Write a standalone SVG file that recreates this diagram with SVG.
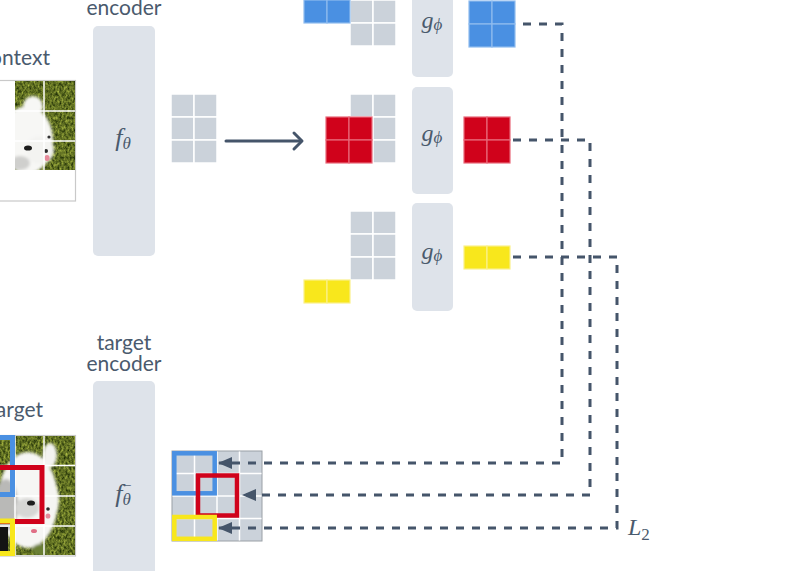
<svg xmlns="http://www.w3.org/2000/svg" width="790" height="571" viewBox="0 0 790 571">
<style>
.lbl{font-family:Lato,"Open Sans","Liberation Sans",sans-serif;font-size:21px;fill:#4a5a6d}
.math{font-family:"Liberation Serif","DejaVu Serif",serif;font-style:italic;fill:#4a5a6d}
.box{fill:#dee3ea}
.cell{fill:#cbd2da;stroke:#ffffff;stroke-width:1.5}
.blue{fill:#4a90e2;stroke:#8fbcef;stroke-width:1.2}
.red{fill:#d0021b;stroke:#e8697a;stroke-width:1.2}
.yel{fill:#f8e71c;stroke:#fbf08a;stroke-width:1.2}
.dash{fill:none;stroke:#45556a;stroke-width:3;stroke-dasharray:8 8}
.gl{stroke:#ffffff;stroke-width:1.5}
</style>
<defs>
<filter id="grassf" x="0" y="0" width="100%" height="100%" color-interpolation-filters="sRGB">
<feTurbulence type="fractalNoise" baseFrequency="0.5 0.3" numOctaves="3" seed="7"/>
<feColorMatrix type="matrix" values="0.8 0 0 0 -0.02  0.8 0 0 0 0.04  0.35 0 0 0 -0.04  0 0 0 0 1"/>
</filter>
<filter id="soft" x="-20%" y="-20%" width="140%" height="140%"><feGaussianBlur stdDeviation="1.6"/></filter>
<clipPath id="cctx"><rect x="15" y="81" width="60" height="89"/></clipPath>
<clipPath id="ctgt"><rect x="-20" y="436" width="95" height="119"/></clipPath>
<marker id="tri" viewBox="0 0 14 12" refX="13" refY="6" markerWidth="14" markerHeight="12" markerUnits="userSpaceOnUse" orient="auto">
<path d="M0,0 L14,6 L0,12 z" fill="#45556a"/>
</marker>
</defs>
<rect width="790" height="571" fill="#ffffff"/>

<g id="context">
<text class="lbl" x="50" y="65" text-anchor="end">context</text>
<rect x="-20" y="80.5" width="95.5" height="120.5" fill="#ffffff" stroke="#c9c9c9" stroke-width="1.2"/>
<g clip-path="url(#cctx)">
<rect x="15" y="81" width="60" height="89" fill="#6f8a3a" filter="url(#grassf)"/>
<g filter="url(#soft)">
<ellipse cx="27" cy="140" rx="26" ry="34" fill="#f7f7f5"/>
<ellipse cx="33" cy="106" rx="10" ry="10" fill="#f7f7f5"/>
<ellipse cx="40" cy="150" rx="14" ry="14" fill="#f3f3f1"/>
<ellipse cx="20" cy="163" rx="10" ry="7" fill="#cfcfcd"/>
</g>
<ellipse cx="28" cy="148" rx="4" ry="2.6" fill="#1e1e1e"/>
<ellipse cx="49" cy="137" rx="1.6" ry="1.6" fill="#333333"/>
<ellipse cx="46" cy="151" rx="2" ry="2" fill="#2a2a2a"/>
<ellipse cx="47" cy="158" rx="2.6" ry="3" fill="#e58a9a"/>
</g>
<line class="gl" x1="44" y1="81" x2="44" y2="170"/>
<line class="gl" x1="15" y1="111" x2="75" y2="111"/>
<line class="gl" x1="15" y1="141" x2="75" y2="141"/>
</g>

<g id="context-encoder">
<text class="lbl" x="124" y="15" text-anchor="middle">encoder</text>
<rect class="box" x="93" y="26" width="62" height="230" rx="5"/>
<text class="math" x="123" y="146" text-anchor="middle" font-size="26">f<tspan font-size="17" dy="3">θ</tspan></text>
</g>

<g id="context-tokens">
<rect class="cell" x="171" y="94" width="23" height="23"/>
<rect class="cell" x="194" y="94" width="23" height="23"/>
<rect class="cell" x="171" y="117" width="23" height="23"/>
<rect class="cell" x="194" y="117" width="23" height="23"/>
<rect class="cell" x="171" y="140" width="23" height="23"/>
<rect class="cell" x="194" y="140" width="23" height="23"/>
</g>

<g id="predictor-1">
<rect class="cell" x="350" y="-23" width="23" height="23"/>
<rect class="cell" x="373" y="-23" width="23" height="23"/>
<rect class="cell" x="350" y="0" width="23" height="23"/>
<rect class="cell" x="373" y="0" width="23" height="23"/>
<rect class="cell" x="350" y="23" width="23" height="23"/>
<rect class="cell" x="373" y="23" width="23" height="23"/>
<rect class="blue" x="304" y="0" width="23" height="23"/>
<rect class="blue" x="327" y="0" width="23" height="23"/>
<rect class="box" x="412" y="-20" width="41" height="97" rx="5"/>
<text class="math" x="432" y="28" text-anchor="middle" font-size="24">g<tspan font-size="17" dy="2">ϕ</tspan></text>
<rect class="blue" x="469" y="1" width="23" height="23"/>
<rect class="blue" x="492" y="1" width="23" height="23"/>
<rect class="blue" x="469" y="24" width="23" height="23"/>
<rect class="blue" x="492" y="24" width="23" height="23"/>
</g>

<g id="predictor-2">
<rect class="cell" x="350" y="94" width="23" height="23"/>
<rect class="cell" x="373" y="94" width="23" height="23"/>
<rect class="cell" x="350" y="117" width="23" height="23"/>
<rect class="cell" x="373" y="117" width="23" height="23"/>
<rect class="cell" x="350" y="140" width="23" height="23"/>
<rect class="cell" x="373" y="140" width="23" height="23"/>
<rect class="red" x="326" y="117" width="23" height="23"/>
<rect class="red" x="349" y="117" width="23" height="23"/>
<rect class="red" x="326" y="140" width="23" height="23"/>
<rect class="red" x="349" y="140" width="23" height="23"/>
<rect class="box" x="412" y="87" width="41" height="107" rx="5"/>
<text class="math" x="432" y="141" text-anchor="middle" font-size="24">g<tspan font-size="17" dy="2">ϕ</tspan></text>
<rect class="red" x="464" y="117" width="23" height="23"/>
<rect class="red" x="487" y="117" width="23" height="23"/>
<rect class="red" x="464" y="140" width="23" height="23"/>
<rect class="red" x="487" y="140" width="23" height="23"/>
</g>

<g id="predictor-3">
<rect class="cell" x="350" y="211" width="23" height="23"/>
<rect class="cell" x="373" y="211" width="23" height="23"/>
<rect class="cell" x="350" y="234" width="23" height="23"/>
<rect class="cell" x="373" y="234" width="23" height="23"/>
<rect class="cell" x="350" y="257" width="23" height="23"/>
<rect class="cell" x="373" y="257" width="23" height="23"/>
<rect class="yel" x="304" y="280" width="23" height="23"/>
<rect class="yel" x="327" y="280" width="23" height="23"/>
<rect class="box" x="412" y="203" width="41" height="108" rx="5"/>
<text class="math" x="432" y="259" text-anchor="middle" font-size="24">g<tspan font-size="17" dy="2">ϕ</tspan></text>
<rect class="yel" x="464" y="246" width="23" height="23"/>
<rect class="yel" x="487" y="246" width="23" height="23"/>
</g>

<g id="target">
<text class="lbl" x="43" y="417" text-anchor="end">target</text>
<rect x="-20" y="435.5" width="95.5" height="120.5" fill="#ffffff" stroke="#c9c9c9" stroke-width="1.2"/>
<g clip-path="url(#ctgt)">
<rect x="-20" y="436" width="95" height="119" fill="#6f8a3a" filter="url(#grassf)"/>
<g filter="url(#soft)">
<ellipse cx="28" cy="500" rx="30" ry="48" fill="#f6f6f4"/>
<ellipse cx="50" cy="455" rx="7" ry="12" fill="#f3f3f1"/>
<ellipse cx="47" cy="500" rx="12" ry="22" fill="#f5f5f3"/>
<ellipse cx="6" cy="505" rx="12" ry="26" fill="#b9b9b7"/>
<ellipse cx="27" cy="508" rx="12" ry="10" fill="#d6d6d4"/>
<ellipse cx="40" cy="550" rx="8" ry="6" fill="#6a7f36"/>
</g>
<ellipse cx="31" cy="503" rx="4" ry="2.6" fill="#1e1e1e"/>
<ellipse cx="48" cy="509" rx="1.8" ry="1.8" fill="#2a2a2a"/>
<ellipse cx="48" cy="516" rx="2.4" ry="2.6" fill="#e58a9a"/>
<ellipse cx="34" cy="531" rx="3" ry="2" fill="#e06f86"/>
<rect x="-5" y="527" width="13" height="25" fill="#141414"/>
</g>
<line class="gl" x1="15" y1="436" x2="15" y2="555"/>
<line class="gl" x1="44" y1="436" x2="44" y2="555"/>
<line class="gl" x1="-20" y1="465.5" x2="75" y2="465.5"/>
<line class="gl" x1="-20" y1="496" x2="75" y2="496"/>
<line class="gl" x1="-20" y1="526" x2="75" y2="526"/>
<rect x="-40" y="437.5" width="52.5" height="57" fill="none" stroke="#4a90e2" stroke-width="5"/>
<rect x="-40" y="467.5" width="82" height="54" fill="none" stroke="#d0021b" stroke-width="5"/>
<rect x="-40" y="521" width="52.5" height="32.5" fill="none" stroke="#f8e71c" stroke-width="5"/>
</g>

<g id="target-encoder">
<text class="lbl" x="124" y="350" text-anchor="middle">target</text>
<text class="lbl" x="124" y="371" text-anchor="middle">encoder</text>
<rect class="box" x="93" y="381" width="62" height="200" rx="5"/>
<text class="math" x="123" y="502" text-anchor="middle" font-size="26">f<tspan font-size="17" dy="3">θ</tspan><tspan font-size="15" font-style="normal" dx="-7.5" dy="-9">¯</tspan></text>
</g>

<g id="target-tokens">
<rect x="172" y="451" width="90" height="90" fill="#cbd2da" stroke="#9aa0a6" stroke-width="1"/>
<g stroke="#ffffff" stroke-width="1.5">
<line x1="194.5" y1="451.5" x2="194.5" y2="540.5"/>
<line x1="217" y1="451.5" x2="217" y2="540.5"/>
<line x1="239.5" y1="451.5" x2="239.5" y2="540.5"/>
<line x1="172.5" y1="473.5" x2="261.5" y2="473.5"/>
<line x1="172.5" y1="496" x2="261.5" y2="496"/>
<line x1="172.5" y1="518.5" x2="261.5" y2="518.5"/>
</g>
<rect x="174.3" y="453.3" width="40.4" height="40" fill="none" stroke="#4a90e2" stroke-width="4.5"/>
<rect x="198" y="475.5" width="39" height="40" fill="none" stroke="#d0021b" stroke-width="4.5"/>
<rect x="174.3" y="517" width="40.4" height="21.8" fill="none" stroke="#f8e71c" stroke-width="4.5"/>
</g>

<g id="connectors">
<path d="M226 141 H300" fill="none" stroke="#45556a" stroke-width="3" stroke-linecap="round"/>
<path d="M294 133 L302 141 L294 149" fill="none" stroke="#45556a" stroke-width="3" stroke-linecap="round" stroke-linejoin="round"/>
<path class="dash" d="M523 24 H562 V463 H219" marker-end="url(#tri)"/>
<path class="dash" d="M513 140 H590 V495 H243" marker-end="url(#tri)"/>
<path class="dash" d="M513 257 H617 V528 H219" marker-end="url(#tri)"/>
</g>

<g id="loss-label">
<text class="math" x="628" y="535" font-size="24">L<tspan font-size="17" dy="5" font-style="normal">2</tspan></text>
</g>
</svg>
